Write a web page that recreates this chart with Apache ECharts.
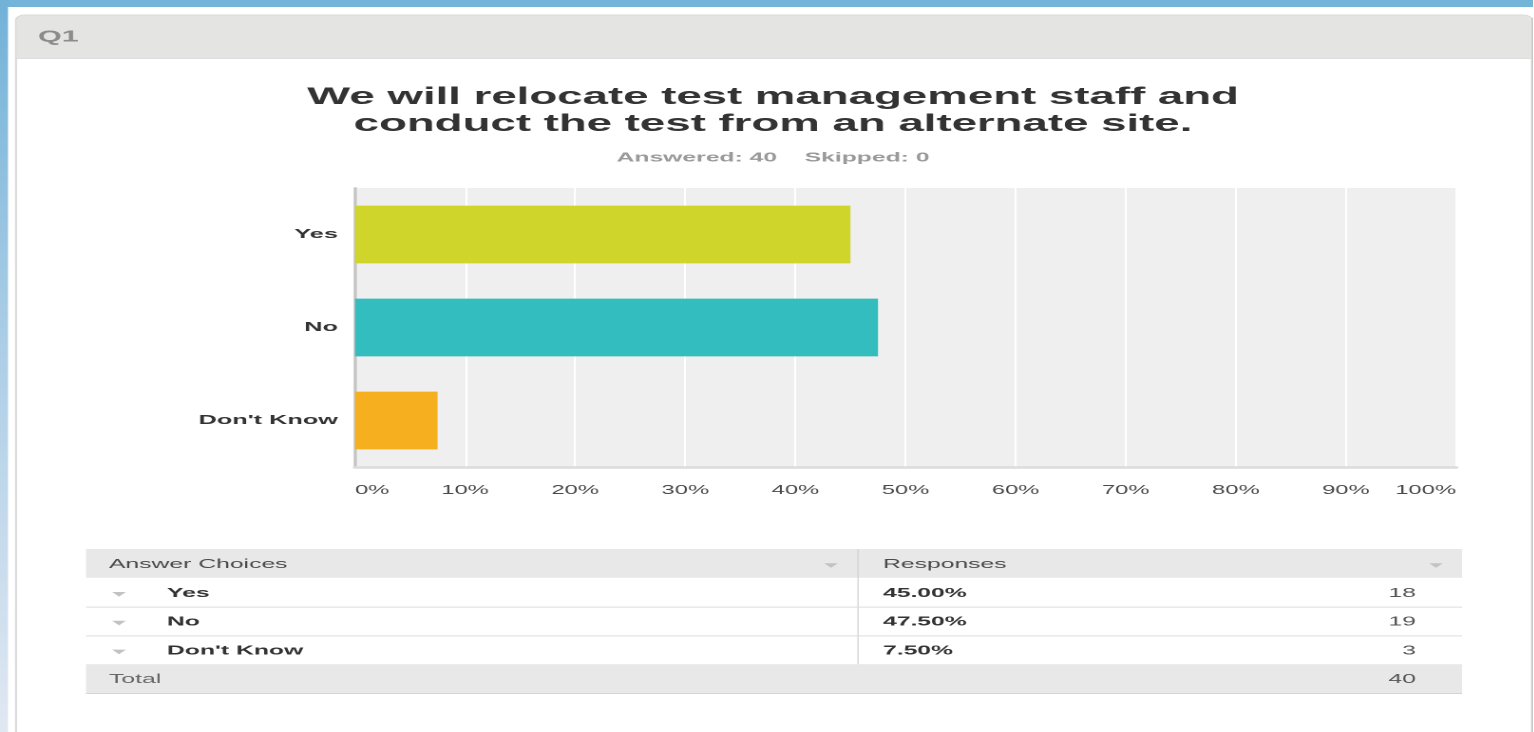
<!DOCTYPE html>
<html>
<head>
<meta charset="utf-8">
<script src="https://cdn.jsdelivr.net/npm/echarts@6/dist/echarts.min.js"></script>
<style>
  html, body { margin: 0; padding: 0; background: #fff; overflow: hidden; }
  /* The survey card is laid out at a narrow width and widened with a horizontal scale. */
  #chart { position: absolute; left: 0; top: 0; height: 732px; transform-origin: 0 0; }
</style>
</head>
<body>
<div id="chart"></div>
<script>
// ---- survey data ----
const questionNo = 'Q1';
const questionTitle = 'We will relocate test management staff and\nconduct the test from an alternate site.';
const answered = 40;
const skipped = 0;
const categories = ['Yes', 'No', "Don't Know"];
const percents = [45.0, 47.5, 7.5];
const counts = [18, 19, 3];
const total = 40;
const tickValues = [0, 10, 20, 30, 40, 50, 60, 70, 80, 90, 100];

// ---- styling ----
const barColors = ['#cfd52a', '#33bdbf', '#f6b01f'];
const FONT = 'Arial, "Liberation Sans", Helvetica, sans-serif';
const SX = 1.9;                 // horizontal widening factor
const W = 1534 / SX;            // layout width before widening
const px = v => v / SX;         // page x -> layout x

const el = document.getElementById('chart');
el.style.width = W + 'px';
el.style.transform = 'scaleX(' + SX + ')';

const chart = echarts.init(el, null, { devicePixelRatio: 2 });

function txt(text, x, y, opts) {
  return {
    type: 'text', z: 20,
    style: {
      text: text, x: x, y: y,
      font: (opts.weight || 'normal') + ' ' + (opts.size || 13) + 'px ' + FONT,
      fill: opts.color || '#333',
      textAlign: opts.align || 'left',
      textVerticalAlign: 'middle'
    }
  };
}
function tri(cx, cy) {
  return {
    type: 'polygon', z: 20,
    shape: { points: [[cx - 3.6, cy - 2.2], [cx + 3.6, cy - 2.2], [cx, cy + 2.4]] },
    style: { fill: '#c2c2c2' }
  };
}
function hline(x1, x2, y, color, w) {
  return { type: 'line', z: 15, shape: { x1: x1, y1: y, x2: x2, y2: y },
           style: { stroke: color, lineWidth: w || 1 } };
}

// page frame and card header
const frame = [
  { type: 'rect', z: 1, shape: { x: 0, y: 0, width: W, height: 7 }, style: { fill: '#74b4d8' } },
  { type: 'rect', z: 1, shape: { x: 0, y: 0, width: px(8), height: 732 },
    style: { fill: new echarts.graphic.LinearGradient(0, 0, 0, 1, [
      { offset: 0, color: '#72b2d8' }, { offset: 0.45, color: '#aacde6' }, { offset: 1, color: '#e1e8f2' }]) } },
  { type: 'rect', z: 1, shape: { x: px(16), y: 15, width: px(1532 - 16), height: 740, r: [5, 5, 0, 0] },
    style: { fill: 'none', stroke: '#d9d9d9', lineWidth: 1 } },
  { type: 'rect', z: 3, shape: { x: px(16.5), y: 15.5, width: px(1531 - 16.5), height: 42.5, r: [5, 5, 0, 0] },
    style: { fill: '#e4e4e2' } },
  hline(px(16.5), px(1531), 58.5, '#dddddd', 1),
  { type: 'line', z: 3, shape: { x1: px(1532.5), y1: 18, x2: px(1532.5), y2: 732 },
    style: { stroke: '#c9c9c9', lineWidth: 1.2 } },
  txt(questionNo, px(38), 37, { weight: 'bold', size: 16, color: '#8c8c8c' })
];

// response table under the chart
const tX0 = px(86), tX1 = px(1462), tDiv = px(858);
const rowTop = 549, rowH = 28.8;
const totalTop = rowTop + rowH * (categories.length + 1);
const table = [];
table.push({ type: 'rect', z: 10, shape: { x: tX0, y: rowTop, width: tX1 - tX0, height: rowH }, style: { fill: '#e8e8e8' } });
table.push({ type: 'rect', z: 10, shape: { x: tX0, y: totalTop, width: tX1 - tX0, height: rowH }, style: { fill: '#e8e8e8' } });
table.push(hline(tX0, tX1, totalTop + rowH + 0.5, '#d4d4d4', 1));
table.push({ type: 'line', z: 15, shape: { x1: tDiv, y1: rowTop, x2: tDiv, y2: totalTop },
             style: { stroke: '#d0d0d0', lineWidth: 0.6 } });
table.push(txt('Answer Choices', px(109), rowTop + rowH / 2 + 1, { size: 13, color: '#4a4a4a' }));
table.push(txt('Responses', px(883), rowTop + rowH / 2 + 1, { size: 13, color: '#4a4a4a' }));
table.push(tri(px(831), rowTop + rowH / 2 + 2));
table.push(tri(px(1436), rowTop + rowH / 2 + 2));
categories.forEach((c, i) => {
  const top = rowTop + rowH * (i + 1);
  const cy = top + rowH / 2 + 1;
  if (i > 0) table.push(hline(tX0, tX1, top + 0.5, '#dddddd', 1));
  table.push(tri(px(119), cy + 1));
  table.push(txt(c, px(167), cy, { weight: 'bold', size: 13, color: '#333' }));
  table.push(txt(percents[i].toFixed(2) + '%', px(883), cy, { weight: 'bold', size: 13, color: '#333' }));
  table.push(txt(String(counts[i]), px(1416), cy, { size: 13, color: '#555', align: 'right' }));
});
table.push(txt('Total', px(109), totalTop + rowH / 2 + 1, { size: 13, color: '#666' }));
table.push(txt(String(total), px(1416), totalTop + rowH / 2 + 1, { size: 13, color: '#555', align: 'right' }));

const option = {
  backgroundColor: '#ffffff',
  animation: false,
  title: {
    text: questionTitle,
    subtext: 'Answered: ' + answered + '    Skipped: ' + skipped,
    left: px(773), top: 84, textAlign: 'center', padding: 0, itemGap: 12,
    textStyle: { fontFamily: FONT, fontSize: 24, fontWeight: 'bold', color: '#333', lineHeight: 27 },
    subtextStyle: { fontFamily: FONT, fontSize: 13, fontWeight: 'bold', color: '#9a9a9a', lineHeight: 16 }
  },
  grid: {
    left: px(355), top: 188, width: px(1456 - 355), height: 279,
    show: true, backgroundColor: '#efefef', borderWidth: 0, containLabel: false
  },
  xAxis: {
    type: 'value', min: tickValues[0], max: tickValues[tickValues.length - 1], interval: tickValues[1] - tickValues[0],
    axisLine: { show: true, lineStyle: { color: '#dcdcdc', width: 2.5 } },
    axisTick: { show: false },
    splitLine: { show: true, lineStyle: { color: '#ffffff', width: 1.1 } },
    axisLabel: {
      formatter: '{value}%', fontFamily: FONT, fontSize: 12.5, color: '#4a4a4a', margin: 17,
      alignMinLabel: 'left', alignMaxLabel: 'right'
    }
  },
  yAxis: {
    type: 'category', data: categories, inverse: true,
    axisLine: { show: true, lineStyle: { color: '#c4c4c4', width: 1.7 } },
    axisTick: { show: false },
    splitLine: { show: false },
    axisLabel: { fontFamily: FONT, fontSize: 13.3, fontWeight: 'bold', color: '#333', margin: 9,
                 padding: [3, 0, 0, 0] }
  },
  series: [{
    type: 'bar',
    barWidth: '62%',
    data: percents.map((v, i) => ({ value: v, itemStyle: { color: barColors[i] } })),
    silent: true
  }],
  graphic: { elements: frame.concat(table) }
};

chart.setOption(option);
</script>
</body>
</html>
